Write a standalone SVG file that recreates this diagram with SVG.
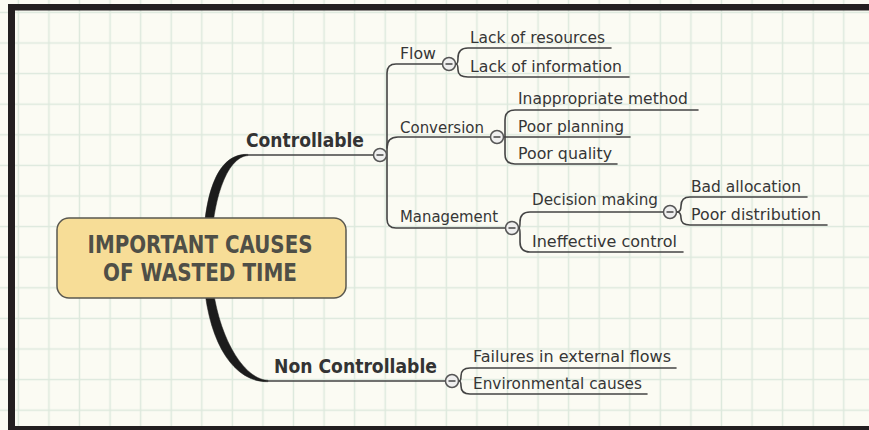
<svg xmlns="http://www.w3.org/2000/svg" xmlns:xlink="http://www.w3.org/1999/xlink" width="869" height="430" viewBox="0 0 869 430">
  <style>
    .lbl { font-family: "DejaVu Sans", "Liberation Sans", sans-serif; font-size: 15px; fill: #363636; }
    .main { font-family: "DejaVu Sans", "Liberation Sans", sans-serif; font-size: 19px; font-weight: bold; fill: #333333; }
    .ctr { font-family: "DejaVu Sans", "Liberation Sans", sans-serif; font-size: 24px; font-weight: bold; fill: #4f4f47; }
    .ln { fill: none; stroke: #444444; stroke-width: 1.6; stroke-linecap: round; }
    .thick { fill: #1c1c1c; stroke: #1c1c1c; stroke-width: 0.5; }
    .tog circle { fill: #efefef; stroke: #555555; stroke-width: 1.5; }
    .tog path { stroke: #444444; stroke-width: 1.5; }
  </style>
  <defs>
    <pattern id="grid" patternUnits="userSpaceOnUse" x="3.1" y="-2.9" width="30.57" height="30.6">
      <path d="M15.28,0 V30.6 M0,15.3 H30.57" stroke="#dde9dd" stroke-width="1.5" fill="none"/>
    </pattern>
    <g id="toggle" class="tog">
      <circle r="6.5"/>
      <path d="M-3.5,0 H3.5"/>
    </g>
  </defs>

  <rect x="0" y="0" width="869" height="430" fill="#fbfbf3"/>
  <rect x="0" y="0" width="869" height="430" fill="url(#grid)"/>

  <g id="frame" fill="#231f20">
    <rect x="8" y="4" width="861" height="6.5"/>
    <rect x="8" y="4" width="7" height="426"/>
    <rect x="8" y="426" width="861" height="4"/>
  </g>

  <g id="connectors">
    <path class="thick" d="M203,258 C203,197 216,153 248,154.4 L248,155.6 C226,157 211,203 211,258 Z"/>
    <path class="thick" d="M203,258 C203,336 231,382.5 268,381.7 L268,380.3 C241,379.5 211,326 211,258 Z"/>
    <path class="ln" d="M247,155 H373"/>
    <path class="ln" d="M267,381 H445"/>
    <!-- Controllable spine -->
    <path class="ln" d="M442,64 H396 Q387,64 387,73 V219 Q387,228 396,228 H505"/>
    <path class="ln" d="M387,148 Q387,137 398,137 H490"/>
    <!-- Flow leaves -->
    <path class="ln" d="M456,64 Q458,64 458,58 Q458,48 468,48 H611"/>
    <path class="ln" d="M456,64 Q458,64 458,70 Q458,77 468,77 H629"/>
    <!-- Conversion leaves -->
    <path class="ln" d="M504,137 H630"/>
    <path class="ln" d="M505,137 V120 Q505,110 515,110 H698"/>
    <path class="ln" d="M505,137 V154 Q505,164 515,164 H617"/>
    <!-- Management children -->
    <path class="ln" d="M519,228 Q520,228 520,222 Q520,212 530,212 H663"/>
    <path class="ln" d="M519,228 Q520,228 520,234 V242 Q520,252 530,252 H683"/>
    <!-- Decision making leaves -->
    <path class="ln" d="M677,212 Q681,212 681,206 Q681,197 690,197 H807"/>
    <path class="ln" d="M677,212 Q681,212 681,218 Q681,225 690,225 H827"/>
    <!-- Non Controllable leaves -->
    <path class="ln" d="M459,381 Q461,381 461,376 Q461,368 470,368 H676"/>
    <path class="ln" d="M459,381 Q461,381 461,386 Q461,394 470,394 H647"/>
  </g>

  <g id="central">
    <rect x="57" y="218" width="289" height="80" rx="12" ry="12" fill="#f7dd97" stroke="#5a5850" stroke-width="1.5"/>
    <text class="ctr" x="200" y="253" text-anchor="middle" textLength="225" lengthAdjust="spacingAndGlyphs">IMPORTANT CAUSES</text>
    <text class="ctr" x="200" y="281" text-anchor="middle" textLength="194" lengthAdjust="spacingAndGlyphs">OF WASTED TIME</text>
  </g>

  <g id="controllable">
    <text class="main" x="246" y="147" textLength="118" lengthAdjust="spacingAndGlyphs">Controllable</text>
    <use xlink:href="#toggle" x="380" y="155"/>
  </g>
  <g id="non-controllable">
    <text class="main" x="274" y="373" textLength="163" lengthAdjust="spacingAndGlyphs">Non Controllable</text>
    <use xlink:href="#toggle" x="452" y="381"/>
  </g>

  <g id="flow">
    <text class="lbl" x="400" y="59" textLength="36" lengthAdjust="spacingAndGlyphs">Flow</text>
    <use xlink:href="#toggle" x="449" y="64"/>
  </g>
  <g id="conversion">
    <text class="lbl" x="400" y="132.5" textLength="84" lengthAdjust="spacingAndGlyphs">Conversion</text>
    <use xlink:href="#toggle" x="497" y="137"/>
  </g>
  <g id="management">
    <text class="lbl" x="400" y="222" textLength="98" lengthAdjust="spacingAndGlyphs">Management</text>
    <use xlink:href="#toggle" x="512" y="228"/>
  </g>

  <g id="lack-of-resources"><text class="lbl" x="470" y="43" textLength="135" lengthAdjust="spacingAndGlyphs">Lack of resources</text></g>
  <g id="lack-of-information"><text class="lbl" x="470" y="72" textLength="152" lengthAdjust="spacingAndGlyphs">Lack of information</text></g>
  <g id="inappropriate-method"><text class="lbl" x="518" y="104" textLength="170" lengthAdjust="spacingAndGlyphs">Inappropriate method</text></g>
  <g id="poor-planning"><text class="lbl" x="518" y="132" textLength="106" lengthAdjust="spacingAndGlyphs">Poor planning</text></g>
  <g id="poor-quality"><text class="lbl" x="518" y="159" textLength="94" lengthAdjust="spacingAndGlyphs">Poor quality</text></g>

  <g id="decision-making">
    <text class="lbl" x="532" y="205" textLength="126" lengthAdjust="spacingAndGlyphs">Decision making</text>
    <use xlink:href="#toggle" x="670" y="212"/>
  </g>
  <g id="ineffective-control"><text class="lbl" x="532" y="247" textLength="145" lengthAdjust="spacingAndGlyphs">Ineffective control</text></g>
  <g id="bad-allocation"><text class="lbl" x="691" y="192" textLength="110" lengthAdjust="spacingAndGlyphs">Bad allocation</text></g>
  <g id="poor-distribution"><text class="lbl" x="691" y="220" textLength="130" lengthAdjust="spacingAndGlyphs">Poor distribution</text></g>

  <g id="failures-external-flows"><text class="lbl" x="473" y="362" textLength="198" lengthAdjust="spacingAndGlyphs">Failures in external flows</text></g>
  <g id="environmental-causes"><text class="lbl" x="473" y="389" textLength="169" lengthAdjust="spacingAndGlyphs">Environmental causes</text></g>
</svg>
